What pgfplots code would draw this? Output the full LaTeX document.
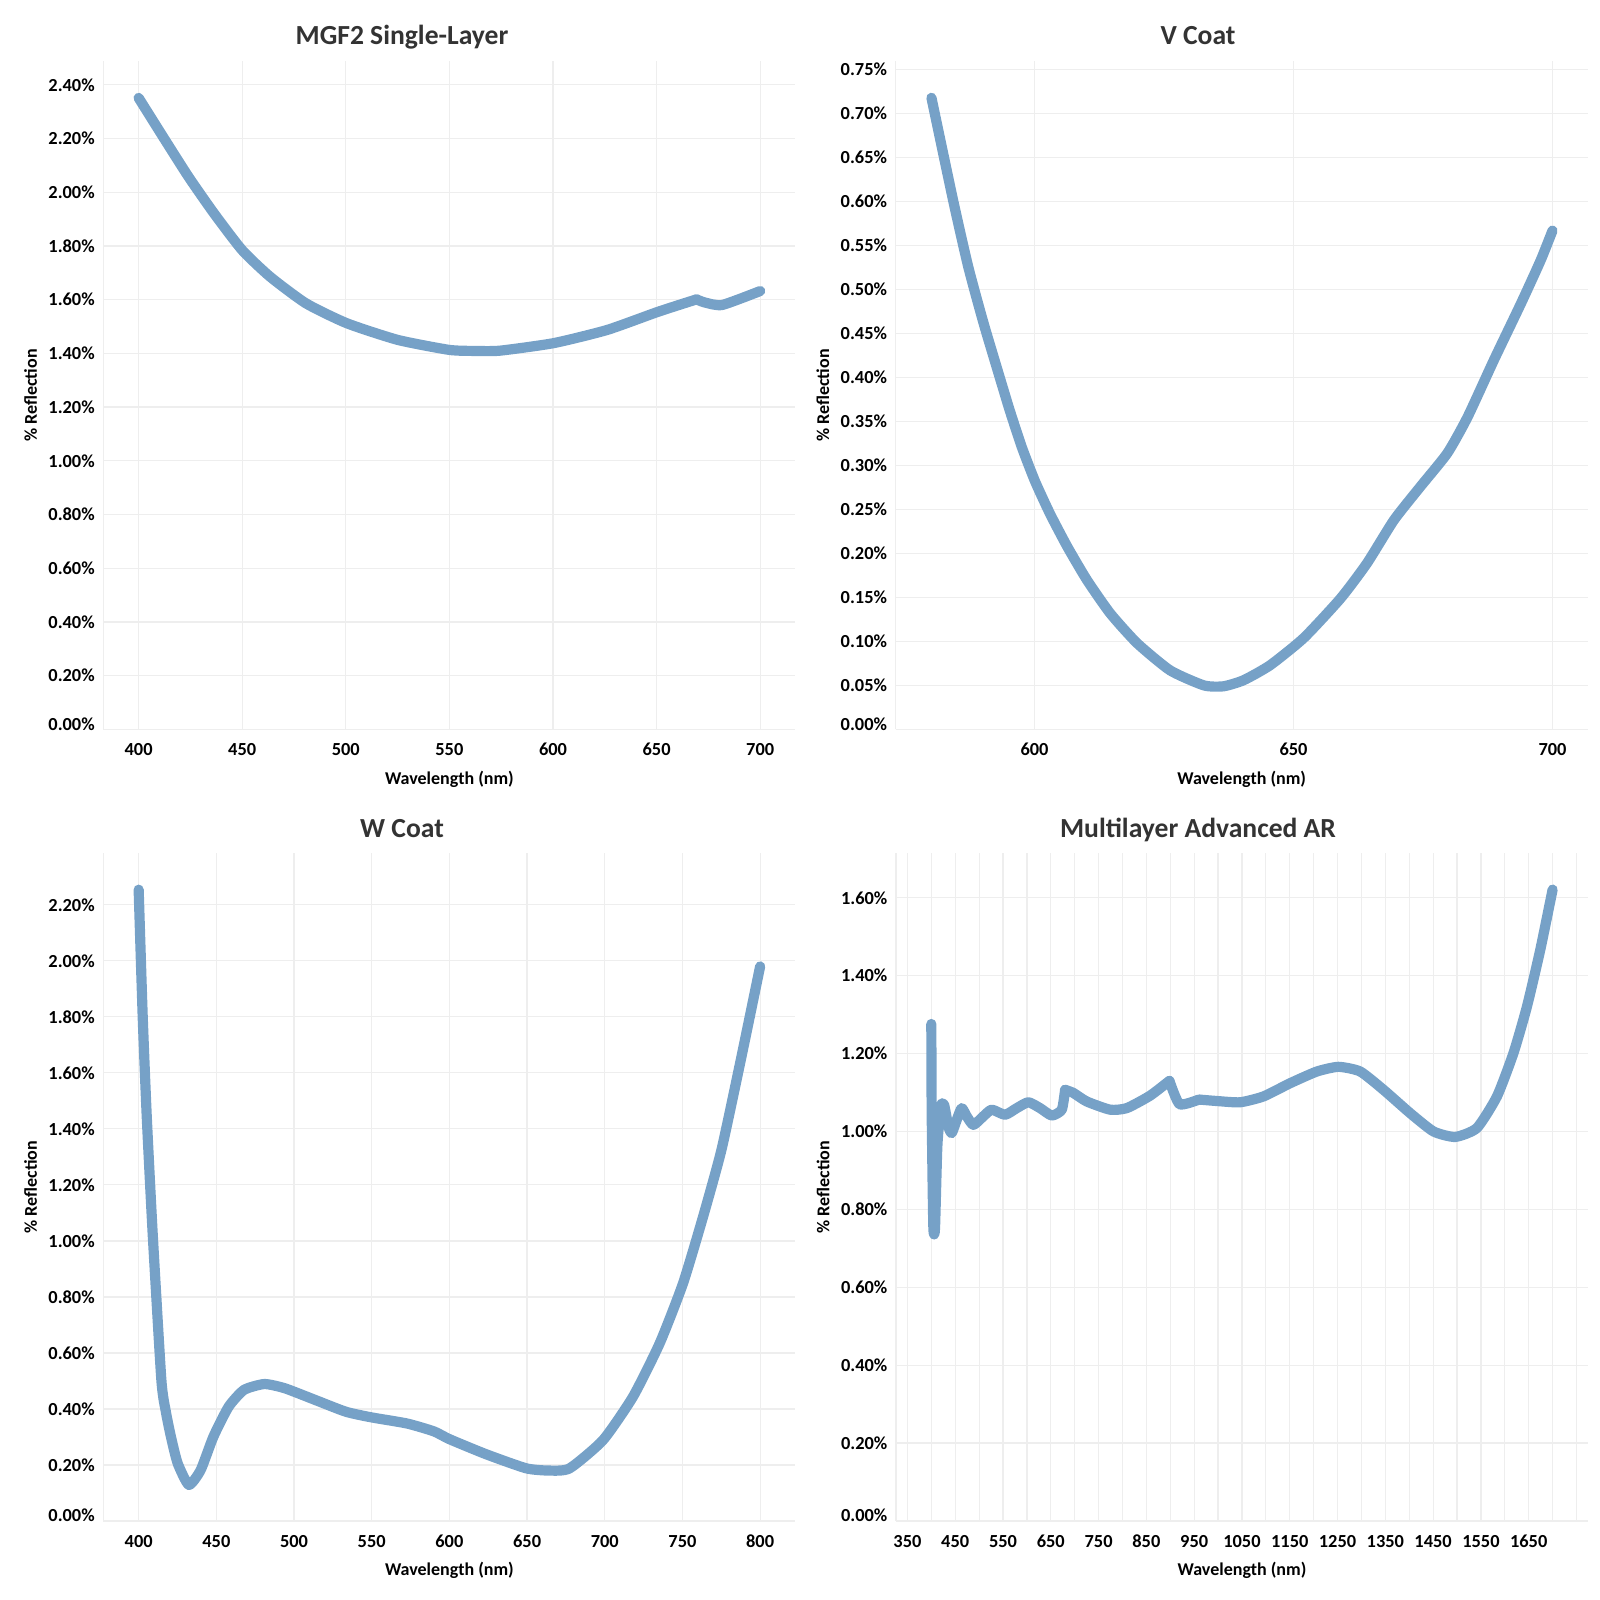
\documentclass[border=0pt]{standalone}
\usepackage{pgfplots}
\pgfplotsset{compat=1.18}
\usepackage{fontspec}
\setmainfont{Carlito}
\definecolor{linec}{RGB}{118,161,199}
\definecolor{gridc}{RGB}{238,238,238}
\definecolor{titlec}{RGB}{51,51,51}
\newcommand{\zl}[1]{\raisebox{5.5pt}{#1}}
\pgfplotsset{
 panel/.style={
  width=346pt, height=334pt, scale only axis, anchor=south west,
  axis lines*=left,
  axis line style={draw=gridc, line width=0.6pt},
  grid=major, major grid style={draw=gridc, line width=0.6pt},
  major tick length=0pt, minor tick length=0pt, tick style={draw=none},
  ticklabel style={font=\bfseries\fontsize{9.2}{10}\selectfont, text=black},
  /pgf/number format/assume math mode=true,
  /pgf/number format/1000 sep={},
  xticklabel style={anchor=base, yshift=-13pt},
  yticklabel style={anchor=east, xshift=-0.8pt},
  xlabel={Wavelength (nm)}, ylabel={\% Reflection},
  label style={font=\bfseries\fontsize{9}{10}\selectfont, text=black},
  xlabel style={at={(axis description cs:0.5,-0.082)}, anchor=base},
  ylabel style={at={(axis description cs:-0.0962,0.5)}, anchor=base},
  clip=false, ymin=0,
 },
 curve/.style={color=linec, line width=5.1pt, line cap=round, line join=round, no marks, smooth, tension=0.35},
}
\begin{document}
\begin{tikzpicture}
\path[use as bounding box] (0pt,0pt) rectangle (800pt,800pt);

% MGF2
\begin{axis}[panel, at={(51.7pt,435.3pt)},
  xmin=383, xmax=717, ymax=2.487,
  xtick={400,450,500,550,600,650,700},
  ytick={0,0.2,0.4,0.6,0.8,1,1.2,1.4,1.6,1.8,2,2.2,2.4},
  yticklabels={\zl{0.00\%},0.20\%,0.40\%,0.60\%,0.80\%,1.00\%,1.20\%,1.40\%,1.60\%,1.80\%,2.00\%,2.20\%,2.40\%}]
\addplot[curve] coordinates {
(400,2.351) (411.8,2.206) (424.1,2.057) (436.4,1.921) (450,1.784) (463.5,1.685)
(480.8,1.586) (500.5,1.512) (525.1,1.450) (549.8,1.413) (562,1.409) (574.4,1.410)
(600.3,1.438) (626.1,1.487) (650.8,1.555) (669.3,1.601)};
\addplot[curve, smooth=false] coordinates {(669.3,1.601) (673,1.590) (681.6,1.580) (700,1.632)};
\end{axis}

% V Coat
\begin{axis}[panel, at={(447.85pt,435.3pt)},
  xmin=573.2, xmax=706.8, ymax=0.7594,
  xtick={600,650,700},
  ytick={0,0.05,0.1,0.15,0.2,0.25,0.3,0.35,0.4,0.45,0.5,0.55,0.6,0.65,0.7,0.75},
  yticklabels={\zl{0.00\%},0.05\%,0.10\%,0.15\%,0.20\%,0.25\%,0.30\%,0.35\%,0.40\%,0.45\%,0.50\%,0.55\%,0.60\%,0.65\%,0.70\%,0.75\%}]
\addplot[curve] coordinates {
(580.1,0.718) (584.3,0.601) (587.2,0.526) (590.2,0.461) (593.7,0.392) (595.3,0.361)
(597.6,0.320) (600.1,0.282) (603.0,0.245) (606.3,0.208) (610.1,0.170) (614.6,0.132)
(619.8,0.098) (626.2,0.067) (632.7,0.050) (636.5,0.049) (640.4,0.056) (645.5,0.073)
(652,0.104) (659.1,0.149) (664.2,0.189) (669.4,0.238) (674.5,0.276) (679.7,0.314)
(683.6,0.355) (688.7,0.420) (693.9,0.484) (697.7,0.533) (700,0.567)};
\end{axis}

% W Coat
\begin{axis}[panel, at={(51.7pt,39.5pt)},
  xmin=377.3, xmax=822.7, ymax=2.385,
  xtick={400,450,500,550,600,650,700,750,800},
  ytick={0,0.2,0.4,0.6,0.8,1,1.2,1.4,1.6,1.8,2,2.2},
  yticklabels={\zl{0.00\%},0.20\%,0.40\%,0.60\%,0.80\%,1.00\%,1.20\%,1.40\%,1.60\%,1.80\%,2.00\%,2.20\%}]
\addplot[curve] coordinates {
(400,2.254) (402.6,1.801) (405.2,1.444) (409.0,1.028) (414.6,0.504) (417.5,0.39)
(420.8,0.30) (425.1,0.206) (432.3,0.129) (439.9,0.182) (448.1,0.301) (457.9,0.408)
(467.8,0.468) (480.9,0.489) (494,0.474) (513.7,0.432) (533.4,0.390) (549.8,0.370)
(572.8,0.348) (590,0.320) (600.1,0.292) (623.8,0.238) (649.5,0.188) (664.5,0.180)
(677.4,0.188) (698.9,0.289) (718.2,0.444) (735.4,0.635) (750.4,0.849) (763.3,1.087)
(775.1,1.325) (787.5,1.645) (800,1.980)};
\end{axis}

% Multilayer
\begin{axis}[panel, at={(448pt,39.5pt)},
  xmin=326.1, xmax=1774.1, ymax=1.715,
  xtick={350,400,...,1750},
  xticklabels={350,,450,,550,,650,,750,,850,,950,,1050,,1150,,1250,,1350,,1450,,1550,,1650,,},
  ytick={0,0.2,0.4,0.6,0.8,1,1.2,1.4,1.6},
  yticklabels={\zl{0.00\%},0.20\%,0.40\%,0.60\%,0.80\%,1.00\%,1.20\%,1.40\%,1.60\%}]
\addplot[curve, smooth=false] coordinates {
(400,1.276) (400.8,1.047) (404.2,0.756) (407.7,0.752) (412.6,0.962) (419.7,1.064)
(426.6,1.069) (435.6,1.013) (442.7,0.996) (453.2,1.030) (463.6,1.060) (474.1,1.039)
(488,1.017) (508.9,1.039) (526.4,1.056) (554.3,1.043) (578.8,1.060) (603,1.075)
(627.5,1.060) (652,1.041) (673,1.056) (679.9,1.107)};
\addplot[curve] coordinates {
(679.9,1.107) (697.2,1.099) (725.3,1.077)
(774.1,1.056) (809,1.060) (857.8,1.092) (898.2,1.130)};
\addplot[curve, smooth=false] coordinates {(898.2,1.130) (919.5,1.070) (960,1.082)};
\addplot[curve] coordinates {
(960,1.082) (1000,1.078) (1046.2,1.075) (1095,1.090) (1150.9,1.124) (1206.8,1.154) (1252,1.166)
(1297.4,1.154) (1346.2,1.107) (1402,1.047) (1450.9,1.000) (1496.3,0.986) (1541.7,1.009)
(1583.6,1.090) (1618.3,1.202) (1646.4,1.321) (1674.3,1.467) (1700,1.621)};
\end{axis}

\begin{scope}[every node/.style={anchor=base, font=\bfseries\fontsize{13.8}{15}\selectfont, text=titlec}]
\node at (201pt,777.5pt) {MGF2 Single-Layer};
\node at (599pt,777.5pt) {V Coat};
\node at (201pt,381.4pt) {W Coat};
\node at (599pt,381.4pt) {Multilayer Advanced AR};
\end{scope}
\end{tikzpicture}
\end{document}
